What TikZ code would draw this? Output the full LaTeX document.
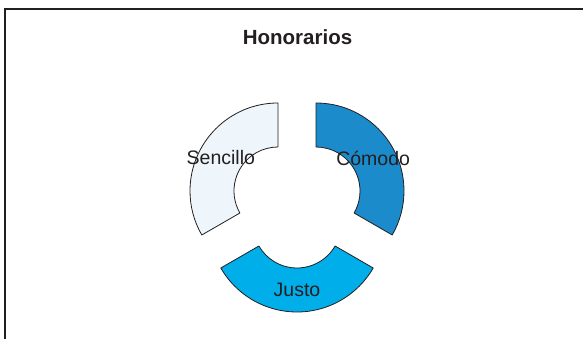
\documentclass[tikz,border=0pt]{standalone}
\usepackage{fontspec}
\setmainfont{Liberation Sans}
\definecolor{sencillo}{HTML}{EEF6FC}
\definecolor{comodo}{HTML}{1B8BCC}
\definecolor{justo}{HTML}{00AEEA}
\definecolor{tinta}{HTML}{231F20}
\tikzset{
  trozo/.style={draw=tinta,line width=0.8pt,line join=round},
  rotulo/.style={text=tinta,font=\fontsize{19.5}{22}\selectfont,inner sep=0pt}
}
\begin{document}
\begin{tikzpicture}[x=1pt,y=1pt]
        \useasboundingbox (0,0) rectangle (583,339);
        % marco
        \draw[tinta,line width=1.3pt] (5,0)--(5,330)--(583,330);
        \node[rotulo,font=\fontsize{20.5}{24}\selectfont\bfseries] (titulo) at (297.5,301.5) {Honorarios};
        % centros de los trozos
        \coordinate (cs) at (278,148);
        \coordinate (cc) at (316,148);
        \coordinate (cj) at (297,115);
        \draw[trozo,fill=sencillo] ([shift={(90:88)}]cs) arc[start angle=90,end angle=210,radius=88pt]
            -- ([shift={(210:44)}]cs) arc[start angle=210,end angle=90,radius=44pt] -- cycle;
        \draw[trozo,fill=comodo] ([shift={(90:88)}]cc) arc[start angle=90,end angle=-30,radius=88pt]
            -- ([shift={(-30:44)}]cc) arc[start angle=-30,end angle=90,radius=44pt] -- cycle;
        \draw[trozo,fill=justo] ([shift={(210:88)}]cj) arc[start angle=210,end angle=330,radius=88pt]
            -- ([shift={(330:44)}]cj) arc[start angle=330,end angle=210,radius=44pt] -- cycle;
        \node[rotulo] (sen) at ([shift={(150:66)}]cs) {Sencillo};
        \node[rotulo] (com) at ([shift={(30:66)}]cc) {Cómodo};
        \node[rotulo] (jus) at ([shift={(270:66)}]cj) {Justo};
    \end{tikzpicture}
\end{document}
